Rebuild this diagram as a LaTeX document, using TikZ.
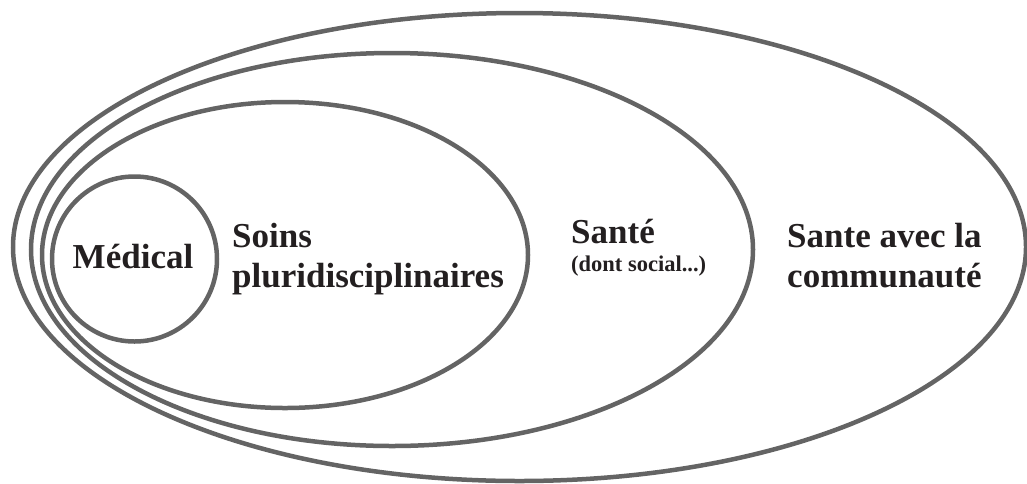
\documentclass[tikz,border=0pt]{standalone}
\usepackage{fontspec}
\setmainfont{Liberation Serif}
\usetikzlibrary{positioning}
\definecolor{ringgray}{HTML}{646464}
\definecolor{inkblack}{HTML}{231F20}
\tikzset{
  ring/.style={draw=ringgray, line width=4.5pt},
  lbl/.style={inner sep=0pt, anchor=base west, align=left, text=inkblack,
    font=\bfseries\fontsize{35}{40}\selectfont},
  sublbl/.style={inner sep=0pt, anchor=base west, text=inkblack,
    font=\bfseries\fontsize{22.5}{26}\selectfont}
}
\begin{document}
\begin{tikzpicture}[x=1pt, y=-1pt]
  \useasboundingbox (0,0) rectangle (1027,483);
  % rings, from the outside in
  \draw[ring] (519.5,247) ellipse [x radius=506.5pt, y radius=234pt];
  \draw[ring] (392,249.5) ellipse [x radius=361pt, y radius=196.5pt];
  \draw[ring] (285,255) ellipse [x radius=243pt, y radius=153pt];
  \draw[ring] (134.5,259) circle [radius=82.5pt];
  % texts (base of a two-line label is its last line)
  \node[lbl, anchor=base] (medical) at (133,268) {Médical};
  \node[lbl] (soins) at (232,287) {Soins\\pluridisciplinaires};
  \node[lbl] (sante) at (571,243) {Santé};
  \node[sublbl] (social) at (571,271) {(dont social...)};
  \node[lbl] (communaute) at (787,287) {Sante avec la\\communauté};
\end{tikzpicture}
\end{document}
